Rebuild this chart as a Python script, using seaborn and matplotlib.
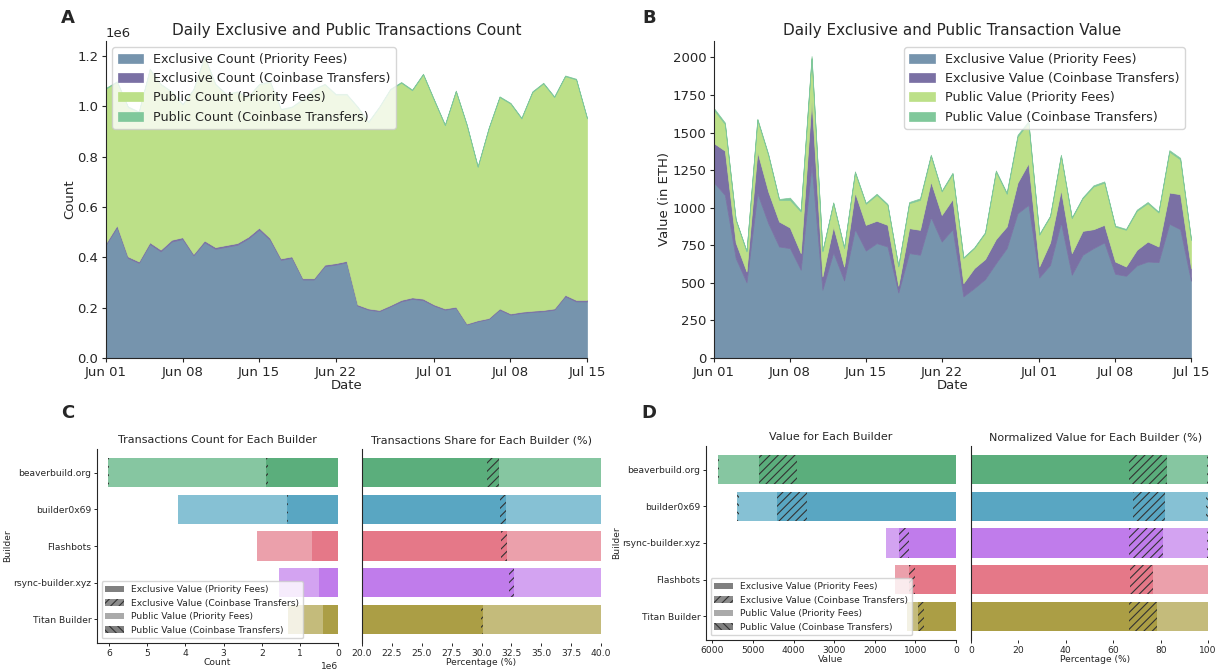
import numpy as np
import pandas as pd
import matplotlib
matplotlib.use("Agg")
import matplotlib.pyplot as plt
import matplotlib.dates as mdates
from matplotlib.patches import Patch
import seaborn as sns

# ---------------- data ----------------
dates = pd.date_range("2023-06-01", "2023-07-15", freq="D")

# Panel A (millions of transactions)
count_excl_priority = [0.451, 0.520, 0.398, 0.378, 0.453, 0.424, 0.463, 0.473, 0.408, 0.460,
                       0.434, 0.442, 0.450, 0.475, 0.510, 0.470, 0.390, 0.398, 0.312, 0.312,
                       0.365, 0.371, 0.380, 0.208, 0.192, 0.186, 0.205, 0.225, 0.235, 0.230,
                       0.208, 0.192, 0.199, 0.133, 0.146, 0.155, 0.192, 0.172, 0.179, 0.183,
                       0.186, 0.192, 0.245, 0.225, 0.225]
count_excl_coinbase = [0.007, 0.008, 0.006, 0.006, 0.007, 0.007, 0.007, 0.007, 0.006, 0.007,
                       0.007, 0.007, 0.007, 0.007, 0.008, 0.007, 0.006, 0.006, 0.005, 0.005,
                       0.006, 0.006, 0.006, 0.005, 0.005, 0.005, 0.005, 0.006, 0.006, 0.006,
                       0.005, 0.005, 0.005, 0.004, 0.004, 0.004, 0.005, 0.005, 0.005, 0.005,
                       0.005, 0.005, 0.006, 0.006, 0.006]
count_pub_priority = [0.613, 0.569, 0.593, 0.593, 0.687, 0.656, 0.587, 0.527, 0.653, 0.730,
                      0.646, 0.598, 0.600, 0.555, 0.569, 0.620, 0.591, 0.593, 0.710, 0.750,
                      0.716, 0.670, 0.661, 0.784, 0.740, 0.806, 0.857, 0.863, 0.823, 0.891,
                      0.812, 0.728, 0.856, 0.788, 0.609, 0.753, 0.840, 0.834, 0.768, 0.869,
                      0.900, 0.840, 0.869, 0.876, 0.721]
count_pub_coinbase = [0.003, 0.003, 0.003, 0.003, 0.003, 0.003, 0.003, 0.003, 0.003, 0.003,
                      0.003, 0.003, 0.003, 0.003, 0.003, 0.003, 0.003, 0.003, 0.003, 0.003,
                      0.003, 0.003, 0.003, 0.003, 0.003, 0.003, 0.003, 0.003, 0.003, 0.003,
                      0.003, 0.003, 0.003, 0.003, 0.003, 0.003, 0.003, 0.003, 0.003, 0.003,
                      0.003, 0.003, 0.003, 0.003, 0.003]

# Panel B (ETH)
value_excl_priority = [1167, 1085, 665, 503, 1096, 897, 742, 731, 587, 1285,
                       454, 702, 516, 857, 715, 764, 742, 436, 698, 687,
                       937, 775, 857, 410, 465, 525, 631, 731, 963, 1019,
                       536, 620, 901, 554, 687, 731, 769, 560, 547, 616,
                       642, 638, 893, 857, 514]
value_excl_coinbase = [262, 295, 104, 73, 277, 211, 166, 137, 111, 432,
                       89, 173, 93, 244, 171, 149, 144, 45, 166, 166,
                       237, 177, 200, 88, 133, 133, 160, 144, 204, 277,
                       73, 149, 218, 144, 159, 126, 117, 82, 62, 104,
                       133, 104, 208, 233, 84]
value_pub_priority = [221, 177, 150, 133, 211, 242, 144, 184, 277, 277,
                      166, 155, 122, 133, 140, 172, 133, 128, 166, 199,
                      171, 156, 168, 167, 133, 173, 449, 217, 306, 270,
                      211, 172, 226, 232, 217, 284, 281, 233, 244, 259,
                      255, 226, 272, 232, 188]
value_pub_coinbase = [12, 10, 5, 4, 8, 8, 6, 15, 8, 15,
                      5, 6, 5, 8, 6, 8, 6, 4, 8, 10,
                      8, 6, 8, 5, 5, 6, 8, 8, 12, 10,
                      6, 6, 8, 6, 6, 8, 8, 6, 6, 8,
                      8, 6, 10, 10, 6]

# Panel C (millions of transactions per builder)
builders_count = ["beaverbuild.org", "builder0x69", "Flashbots", "rsync-builder.xyz", "Titan Builder"]
bc_excl_priority = [1.836, 1.322, 0.671, 0.501, 0.390]
bc_excl_coinbase = [0.057, 0.020, 0.0098, 0.0062, 0.0017]
bc_pub_priority = [4.123, 2.845, 1.437, 1.041, 0.9076]
bc_pub_coinbase = [0.004, 0.003, 0.002, 0.002, 0.001]

# Panel D (ETH per builder)
builders_value = ["beaverbuild.org", "builder0x69", "rsync-builder.xyz", "Flashbots", "Titan Builder"]
bv_excl_priority = [3911, 3679, 1146, 1007, 800]
bv_excl_coinbase = [946, 733, 247, 148, 142]
bv_pub_priority = [975, 941, 320, 348, 255]
bv_pub_coinbase = [30, 40, 8, 3, 3]

area_labels_count = ["Exclusive Count (Priority Fees)", "Exclusive Count (Coinbase Transfers)",
                     "Public Count (Priority Fees)", "Public Count (Coinbase Transfers)"]
area_labels_value = ["Exclusive Value (Priority Fees)", "Exclusive Value (Coinbase Transfers)",
                     "Public Value (Priority Fees)", "Public Value (Coinbase Transfers)"]

# ---------------- style ----------------
AREA_COLORS = ["#7694AD", "#7A70A4", "#BCE088", "#80C89B"]
BUILDER_DARK = {"beaverbuild.org": "#5BAE7C", "builder0x69": "#59A6C2", "Flashbots": "#E57888",
                "rsync-builder.xyz": "#C07CEB", "Titan Builder": "#AB9E45"}
BUILDER_LIGHT = {"beaverbuild.org": "#86C6A1", "builder0x69": "#86C1D4", "Flashbots": "#EBA0AB",
                 "rsync-builder.xyz": "#D3A3F1", "Titan Builder": "#C4BB7B"}
HATCH_COLOR = "#333333"

sns.set_style("ticks")
plt.rcParams["font.family"] = ["DejaVu Sans"]
plt.rcParams["hatch.linewidth"] = 0.8

W, H = 1225, 670
fig = plt.figure(figsize=(W / 100, H / 100), dpi=100)


def rect(l, t, r, b):
    return [l / W, 1 - b / H, (r - l) / W, (b - t) / H]


TICK_FS = 9.5
LAB_FS = 9.5
TITLE_FS = 11
LEG_FS = 9.2


def area_panel(ax, layers, labels, title, ylabel, scale, legend_loc):
    arrs = [np.asarray(a, float) * scale for a in layers]
    ax.stackplot(dates, *arrs, colors=AREA_COLORS, labels=labels, linewidth=0.5, edgecolor="face")
    ax.set_xlim(dates[0], dates[-1])
    ax.xaxis.set_major_locator(mdates.DayLocator(bymonthday=[1, 8, 15, 22]))
    ax.xaxis.set_major_formatter(mdates.DateFormatter("%b %d"))
    ax.set_title(title, fontsize=TITLE_FS, pad=4)
    ax.set_xlabel("Date", fontsize=LAB_FS, labelpad=0)
    ax.set_ylabel(ylabel, fontsize=LAB_FS, labelpad=1)
    ax.tick_params(labelsize=TICK_FS, length=3, pad=2.5)
    ax.yaxis.get_offset_text().set_fontsize(TICK_FS)
    ax.legend(loc=legend_loc, fontsize=LEG_FS, framealpha=0.8)
    sns.despine(ax=ax)


axA = fig.add_axes(rect(106, 41, 587, 358))
area_panel(axA, [count_excl_priority, count_excl_coinbase, count_pub_priority, count_pub_coinbase],
           area_labels_count, "Daily Exclusive and Public Transactions Count", "Count", 1e6, "upper left")

axB = fig.add_axes(rect(714, 41, 1191, 358))
area_panel(axB, [value_excl_priority, value_excl_coinbase, value_pub_priority, value_pub_coinbase],
           area_labels_value, "Daily Exclusive and Public Transaction Value", "Value (in ETH)", 1, "upper right")

SMALL_FS = 6.6
STITLE_FS = 8


def builder_bars(ax, builders, layers, scale=1.0, pct=False):
    ep, ec, pp, pc = [np.asarray(a, float) * scale for a in layers]
    c1 = ep
    c2 = c1 + ec
    c3 = c2 + pp
    c4 = c3 + pc
    if pct:
        tot = c4.copy()
        c1, c2, c3, c4 = [c / tot * 100 for c in (c1, c2, c3, c4)]
    dark = [BUILDER_DARK[b] for b in builders]
    light = [BUILDER_LIGHT[b] for b in builders]
    specs = [(c4, light, "\\\\\\\\"), (c3, light, ""), (c2, dark, "////"), (c1, dark, "")]
    for vals, cols, hatch in specs:
        df = pd.DataFrame({"builder": builders, "v": vals})
        sns.barplot(data=df, x="v", y="builder", hue="builder", palette=cols, legend=False,
                    orient="h", errorbar=None, saturation=1, width=0.8, hatch=hatch,
                    edgecolor=HATCH_COLOR, linewidth=0, ax=ax)
    ax.set_ylim(4.64, -0.64)
    ax.tick_params(labelsize=SMALL_FS, length=2.5, width=0.7, pad=1.5)
    ax.xaxis.get_offset_text().set_fontsize(SMALL_FS)


legend_handles = [
    Patch(facecolor="#808080", edgecolor=HATCH_COLOR, linewidth=0, label="Exclusive Value (Priority Fees)"),
    Patch(facecolor="#8C8C8C", edgecolor=HATCH_COLOR, linewidth=0, hatch="////", label="Exclusive Value (Coinbase Transfers)"),
    Patch(facecolor="#AAAAAA", edgecolor=HATCH_COLOR, linewidth=0, label="Public Value (Priority Fees)"),
    Patch(facecolor="#808080", edgecolor=HATCH_COLOR, linewidth=0, hatch="\\\\\\\\", label="Public Value (Coinbase Transfers)"),
]


def left_panel(ax, builders, layers, scale, title, xlabel):
    builder_bars(ax, builders, layers, scale=scale)
    ax.invert_xaxis()
    ax.set_title(title, fontsize=STITLE_FS, pad=4)
    ax.set_xlabel(xlabel, fontsize=SMALL_FS, labelpad=0.5)
    ax.set_ylabel("Builder", fontsize=SMALL_FS, labelpad=1)
    ax.legend(handles=legend_handles, loc="lower left", fontsize=SMALL_FS, framealpha=0.8)
    sns.despine(ax=ax)


def right_panel(ax, builders, layers, title, xlim=None):
    builder_bars(ax, builders, layers, pct=True)
    if xlim is not None:
        ax.set_xlim(*xlim)
    ax.set_title(title, fontsize=STITLE_FS, pad=4)
    ax.set_xlabel("Percentage (%)", fontsize=SMALL_FS, labelpad=0.5)
    ax.set_ylabel("")
    ax.tick_params(axis="y", left=False, labelleft=False)
    sns.despine(ax=ax, bottom=True)


count_layers = [bc_excl_priority, bc_excl_coinbase, bc_pub_priority, bc_pub_coinbase]
value_layers = [bv_excl_priority, bv_excl_coinbase, bv_pub_priority, bv_pub_coinbase]

axC1 = fig.add_axes(rect(97, 449, 338, 643))
left_panel(axC1, builders_count, count_layers, 1e6, "Transactions Count for Each Builder", "Count")
axC2 = fig.add_axes(rect(362, 449, 601, 643))
right_panel(axC2, builders_count, count_layers, "Transactions Share for Each Builder (%)", xlim=(20, 40))

axD1 = fig.add_axes(rect(706, 446, 956, 640))
left_panel(axD1, builders_value, value_layers, 1, "Value for Each Builder", "Value")
axD2 = fig.add_axes(rect(971, 446, 1220, 640))
right_panel(axD2, builders_value, value_layers, "Normalized Value for Each Builder (%)")

for lab, x, y in [("A", 68, 18), ("B", 649, 18), ("C", 68, 413), ("D", 649, 413)]:
    fig.text(x / W, 1 - y / H, lab, fontsize=13, fontweight="bold", ha="center", va="center")

fig.savefig("out.png", dpi=100)
